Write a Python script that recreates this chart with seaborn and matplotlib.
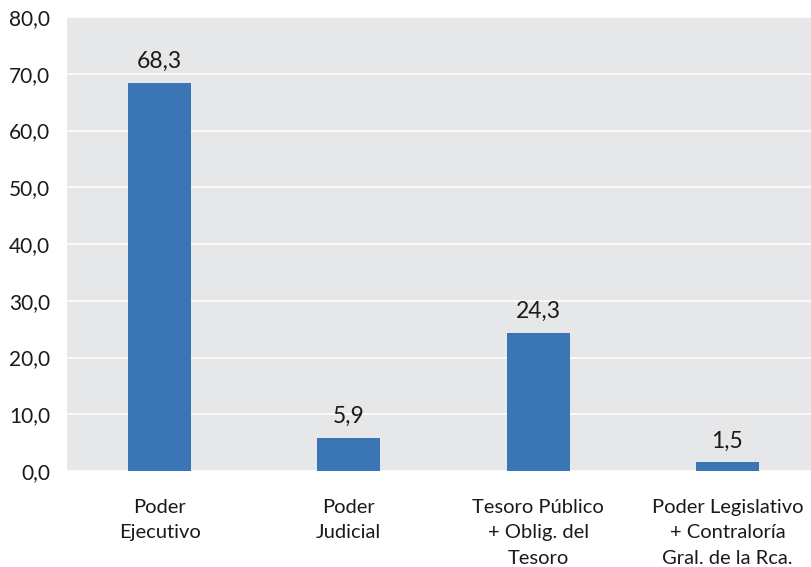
import matplotlib
matplotlib.use("Agg")
import matplotlib.pyplot as plt
import seaborn as sns
import pandas as pd

categories = [
    "Poder\nEjecutivo",
    "Poder\nJudicial",
    "Tesoro Público\n+ Oblig. del\nTesoro",
    "Poder Legislativo\n+ Contraloría\nGral. de la Rca.",
]
values = [68.3, 5.9, 24.3, 1.5]
y_ticks = [0, 10, 20, 30, 40, 50, 60, 70, 80]

sns.set_theme(style="darkgrid")
plt.rcParams["font.family"] = ["Lato", "DejaVu Sans"]

df = pd.DataFrame({"cat": categories, "val": values})

fig = plt.figure(figsize=(8.11, 5.67), dpi=100)
ax = fig.add_axes([0.0826, 0.1693, 0.9174, 0.8007])
ax.set_facecolor("#e6e7e8")

sns.barplot(data=df, x="cat", y="val", color="#3a76b6", saturation=1,
            width=0.333, linewidth=0, edgecolor="none", ax=ax)

ax.set_ylim(0, 80)
ax.set_xlim(-0.489, 3.442)
ax.set_yticks(y_ticks)
ax.set_yticklabels([f"{t:.1f}".replace(".", ",") for t in y_ticks])
ax.grid(axis="y", color="white", linewidth=1.2)
ax.grid(axis="x", visible=False)
ax.set_xlabel("")
ax.set_ylabel("")
for s in ax.spines.values():
    s.set_visible(False)
ax.tick_params(axis="y", labelsize=15, pad=12, length=0)
ax.tick_params(axis="x", labelsize=14.5, pad=20, length=0)
for lbl in ax.get_xticklabels():
    lbl.set_linespacing(1.6)

for i, v in enumerate(values):
    ax.annotate(f"{v:.1f}".replace(".", ","), (i, v), xytext=(0, 8),
                textcoords="offset points", ha="center", va="bottom",
                fontsize=16.5, color="#1a1a1a")

for lbl in ax.get_xticklabels() + ax.get_yticklabels():
    lbl.set_color("#1a1a1a")

fig.savefig("out.png", dpi=100, facecolor="white")
